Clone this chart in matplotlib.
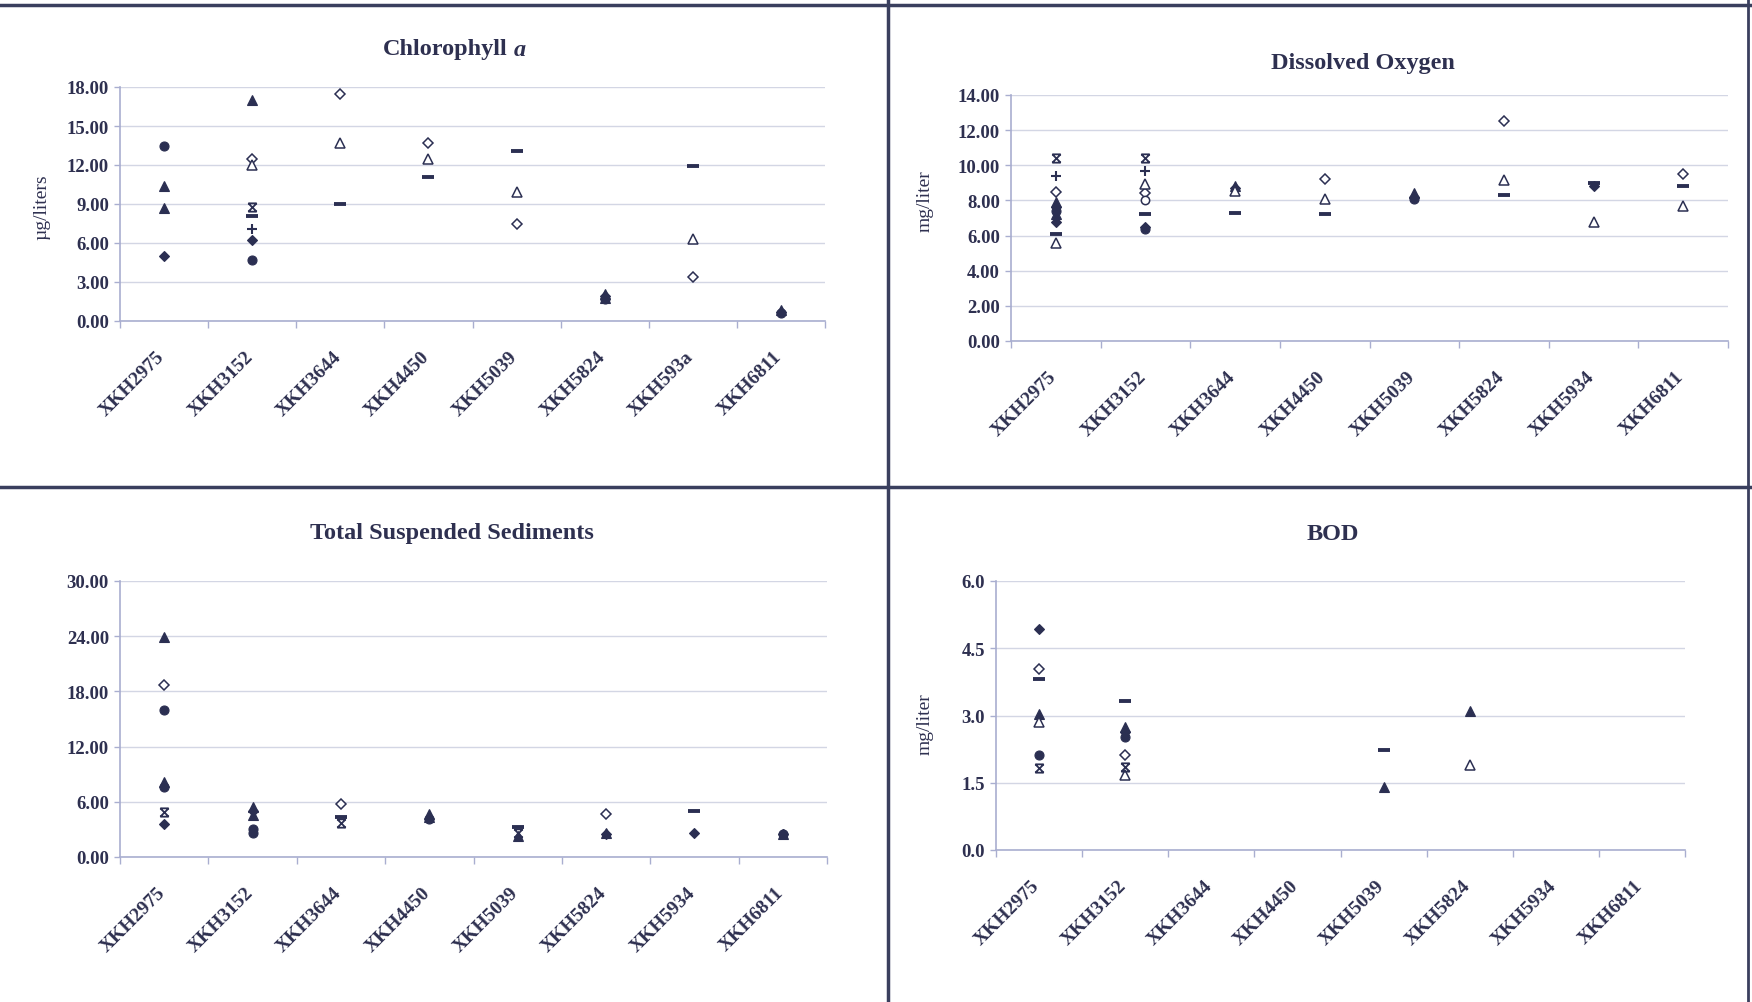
import numpy as np
import matplotlib
matplotlib.use("Agg")
import matplotlib.pyplot as plt
from matplotlib.path import Path
from matplotlib.lines import Line2D
from matplotlib.transforms import ScaledTranslation

nan = np.nan

# ---------------- data ----------------
chl_sites = ["XKH2975", "XKH3152", "XKH3644", "XKH4450", "XKH5039", "XKH5824", "XKH593a", "XKH6811"]
sites = ["XKH2975", "XKH3152", "XKH3644", "XKH4450", "XKH5039", "XKH5824", "XKH5934", "XKH6811"]

chl_ticks = [0, 3, 6, 9, 12, 15, 18]
chl_diamond_f = [5.0, 6.2, nan, nan, nan, 1.9, nan, 0.7]
chl_tri_f1 = [10.4, 17.0, nan, nan, nan, 2.1, nan, 0.85]
chl_tri_f2 = [8.7, nan, nan, nan, nan, 1.8, nan, nan]
chl_xmark = [nan, 8.8, nan, nan, nan, nan, nan, nan]
chl_circle_f = [13.5, 4.7, nan, nan, nan, 1.7, nan, 0.6]
chl_plus = [nan, 7.1, nan, nan, nan, nan, nan, nan]
chl_dash = [nan, 8.1, 9.0, 11.1, 13.1, nan, 11.9, nan]
chl_diamond_o = [nan, 12.5, 17.5, 13.7, 7.5, nan, 3.4, nan]
chl_tri_o = [nan, 12.0, 13.7, 12.5, 9.9, nan, 6.3, nan]

do_ticks = [0, 2, 4, 6, 8, 10, 12, 14]
do_xmark = [10.4, 10.4, nan, nan, nan, nan, nan, nan]
do_plus = [9.4, 9.7, nan, nan, nan, nan, nan, nan]
do_diamond_o = [8.5, 8.4, nan, 9.2, nan, 12.5, nan, 9.5]
do_tri_f1 = [7.9, nan, 8.8, nan, 8.4, nan, nan, nan]
do_diamond_f = [7.6, nan, 8.7, nan, 8.2, nan, 8.8, nan]
do_circle_f = [7.4, 6.4, nan, nan, 8.1, nan, nan, nan]
do_tri_f2 = [7.2, nan, nan, nan, nan, nan, nan, nan]
do_diamond_f2 = [6.8, 6.5, nan, nan, nan, nan, nan, nan]
do_dash = [6.1, 7.2, 7.3, 7.2, nan, 8.3, 9.0, 8.8]
do_tri_o = [5.55, 8.95, 8.55, 8.1, nan, 9.15, 6.8, 7.7]
do_circle_o = [nan, 8.0, nan, nan, nan, nan, nan, nan]

tss_ticks = [0, 6, 12, 18, 24, 30]
tss_tri_f1 = [23.9, 5.4, nan, 4.65, 2.3, 2.6, nan, 2.5]
tss_diamond_o = [18.7, nan, 5.75, nan, nan, 4.7, nan, nan]
tss_circle_f = [16.0, 3.0, nan, 4.1, nan, nan, nan, 2.45]
tss_tri_f2 = [8.1, 4.6, nan, 4.4, nan, nan, nan, nan]
tss_circle_f2 = [7.6, 2.6, nan, nan, nan, nan, nan, nan]
tss_diamond_f = [3.6, 5.0, nan, nan, nan, 2.5, 2.65, 2.5]
tss_xmark = [4.85, nan, 3.75, nan, 2.65, nan, nan, nan]
tss_dash = [nan, nan, 4.3, nan, 3.3, nan, 5.0, nan]

bod_ticks = [0.0, 1.5, 3.0, 4.5, 6.0]
bod_diamond_f = [4.92, 2.63, nan, nan, nan, nan, nan, nan]
bod_diamond_o = [4.04, 2.13, nan, nan, nan, nan, nan, nan]
bod_dash = [3.82, 3.32, nan, nan, 2.22, nan, nan, nan]
bod_tri_f1 = [3.04, 2.74, nan, nan, 1.4, 3.1, nan, nan]
bod_tri_o = [2.85, 1.67, nan, nan, nan, 1.9, nan, nan]
bod_circle_f = [2.13, 2.52, nan, nan, nan, nan, nan, nan]
bod_xmark = [1.82, 1.86, nan, nan, nan, nan, nan, nan]

# ---------------- style ----------------
INK = "#2b2f52"
TXT = "#2e3050"
GRID = "#d3d6e4"
AXL = "#a9aed0"
SERIF = ["Liberation Serif", "DejaVu Serif"]

plt.rcParams["font.family"] = SERIF

hour_x = Path([(-1, 1), (1, 1), (-1, -1), (1, -1), (-1, 1), (1, -1), (-1, -1), (1, 1)],
              [Path.MOVETO, Path.LINETO] * 4)

STY = {
    "diamond_f": dict(marker="D", ms=5, mfc=INK, mec=INK, mew=0.8),
    "diamond_f2": dict(marker="D", ms=5, mfc=INK, mec=INK, mew=0.8),
    "tri_f1": dict(marker="^", ms=6.5, mfc=INK, mec=INK, mew=0.8),
    "tri_f2": dict(marker="^", ms=7, mfc=INK, mec=INK, mew=0.8),
    "xmark": dict(marker=hour_x, ms=6, mfc="none", mec=INK, mew=1.3),
    "circle_f": dict(marker="o", ms=6.5, mfc=INK, mec=INK, mew=0.8),
    "circle_f2": dict(marker="o", ms=6.5, mfc=INK, mec=INK, mew=0.8),
    "plus": dict(marker="+", ms=7, mfc=INK, mec=INK, mew=1.5),
    "dash": dict(marker="_", ms=9, mfc=INK, mec=INK, mew=2.8),
    "diamond_o": dict(marker="D", ms=5, mfc="white", mec=INK, mew=1.1),
    "tri_o": dict(marker="^", ms=6.5, mfc="white", mec=INK, mew=1.1),
    "circle_o": dict(marker="o", ms=6, mfc="white", mec=INK, mew=1.1),
}

W, H = 1752, 1003
fig = plt.figure(figsize=(W / 100, H / 100), dpi=100)
fig.patch.set_facecolor("white")


def rect(l, r, b, t):
    return [l / W, 1 - b / H, (r - l) / W, (b - t) / H]


def panel(pos, cats, ticks, fmt, series, title, title_xy, ylabel=None, ylabel_xy=None, title_it=None):
    ax = fig.add_axes(pos)
    n = len(cats)
    x = np.arange(n) + 0.5
    for name, vals in series:
        ax.plot(x, vals, linestyle="none", clip_on=False, **STY[name])
    ax.set_xlim(0, n)
    ax.set_ylim(ticks[0], ticks[-1])
    ax.set_yticks(ticks)
    ax.set_yticklabels([fmt.format(t) for t in ticks], fontsize=13.5, fontweight="bold", color=TXT)
    ax.yaxis.grid(True, color=GRID, linewidth=1.0)
    ax.set_axisbelow(True)
    ax.set_xticks(x)
    ax.set_xticklabels(cats, rotation=45, ha="right", va="top", rotation_mode="anchor",
                       fontsize=14, fontweight="bold", color=TXT)
    ax.tick_params(axis="x", length=0, pad=19)
    off = ScaledTranslation(-0.08, 0, fig.dpi_scale_trans)
    for lab in ax.get_xticklabels():
        lab.set_transform(lab.get_transform() + off)
    ax.set_xticks(np.arange(n + 1), minor=True)
    ax.tick_params(axis="x", which="minor", length=5, direction="out", color=AXL, width=1)
    ax.tick_params(axis="y", length=4, direction="out", color=AXL, width=1, pad=4)
    for s in ("top", "right"):
        ax.spines[s].set_visible(False)
    for s in ("left", "bottom"):
        ax.spines[s].set_color(AXL)
        ax.spines[s].set_linewidth(1.2)
    ax.set_facecolor("none")
    if title_it:
        fig.text(title_xy[0] / W, 1 - title_xy[1] / H, title, ha="right", va="center",
                 fontsize=17.5, fontweight="bold", color=TXT)
        fig.text(title_xy[0] / W + 0.003, 1 - title_xy[1] / H, title_it, ha="left", va="center",
                 fontsize=17.5, fontweight="bold", style="italic", color=TXT)
    else:
        fig.text(title_xy[0] / W, 1 - title_xy[1] / H, title, ha="center", va="center",
                 fontsize=17.5, fontweight="bold", color=TXT)
    if ylabel:
        fig.text(ylabel_xy[0] / W, 1 - ylabel_xy[1] / H, ylabel, rotation=90,
                 ha="center", va="center", fontsize=14, color=TXT)
    return ax


panel(rect(120, 825, 322, 88), chl_sites, chl_ticks, "{:.2f}",
      [("circle_f", chl_circle_f), ("tri_f1", chl_tri_f1), ("tri_f2", chl_tri_f2),
       ("diamond_f", chl_diamond_f), ("xmark", chl_xmark), ("plus", chl_plus),
       ("dash", chl_dash), ("diamond_o", chl_diamond_o), ("tri_o", chl_tri_o)],
      "Chlorophyll", (508, 50), "µg/liters", (42, 207), title_it="a")

panel(rect(1011, 1728, 342, 96), sites, do_ticks, "{:.2f}",
      [("xmark", do_xmark), ("plus", do_plus), ("diamond_o", do_diamond_o),
       ("tri_f1", do_tri_f1), ("diamond_f", do_diamond_f), ("circle_f", do_circle_f),
       ("tri_f2", do_tri_f2), ("diamond_f2", do_diamond_f2), ("dash", do_dash),
       ("tri_o", do_tri_o), ("circle_o", do_circle_o)],
      "Dissolved Oxygen", (1363, 63), "mg/liter", (925, 201))

panel(rect(120, 827, 858, 582), sites, tss_ticks, "{:.2f}",
      [("tri_f1", tss_tri_f1), ("diamond_o", tss_diamond_o), ("circle_f", tss_circle_f),
       ("tri_f2", tss_tri_f2), ("circle_f2", tss_circle_f2), ("diamond_f", tss_diamond_f),
       ("xmark", tss_xmark), ("dash", tss_dash)],
      "Total Suspended Sediments", (452, 534))

panel(rect(996, 1685, 851, 582), sites, bod_ticks, "{:.1f}",
      [("diamond_f", bod_diamond_f), ("diamond_o", bod_diamond_o), ("dash", bod_dash),
       ("tri_f1", bod_tri_f1), ("tri_o", bod_tri_o), ("circle_f", bod_circle_f),
       ("xmark", bod_xmark)],
      "BOD", (1333, 534), "mg/liter", (925, 724))

# panel frame lines
BORDER = "#3a3f5e"
fig.add_artist(Line2D([0, 1], [1 - 6 / H, 1 - 6 / H], color=BORDER, linewidth=2.5, transform=fig.transFigure))
fig.add_artist(Line2D([0, 1], [1 - 488 / H, 1 - 488 / H], color=BORDER, linewidth=2.5, transform=fig.transFigure))
fig.add_artist(Line2D([888 / W, 888 / W], [0, 1], color=BORDER, linewidth=2.5, transform=fig.transFigure))
fig.add_artist(Line2D([1748 / W, 1748 / W], [0, 1], color=BORDER, linewidth=2.0, transform=fig.transFigure))

fig.savefig("out.png", dpi=100, facecolor="white")
